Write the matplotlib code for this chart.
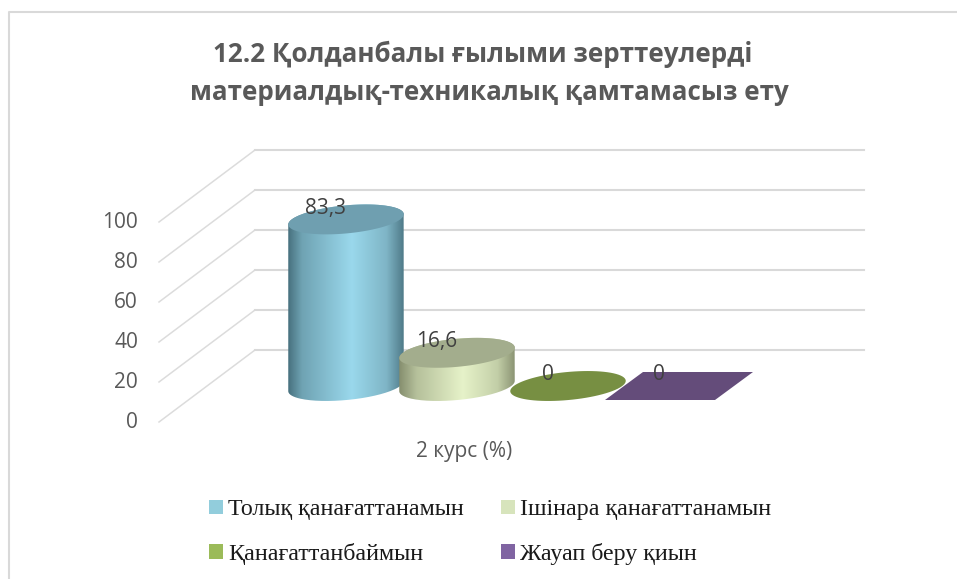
import matplotlib
matplotlib.use('Agg')
import matplotlib.pyplot as plt
import numpy as np
from matplotlib.patches import Patch, PathPatch, Polygon
from matplotlib.path import Path

title = 'Қолданбалы ғылыми зерттеулерді'
title2 = 'материалдық-техникалық қамтамасыз ету'
categories = ['Толық қанағаттанамын', 'Ішінара қанағаттанамын', 'Қанағаттанбаймын', 'Жауап беру қиын']
values = [83.3, 16.6, 0, 0]
value_labels = ['83,3', '16,6', '0', '0']
yticks = [0, 20, 40, 60, 80, 100]
xlabel = '2 курс (%)'
legend_colors = ['#92cddc', '#d7e4bc', '#9bbb59', '#8064a2']

# one category is 111 px wide, one percent is 2 px high
PX_X = 111
PX_Y = 2
W, H = 957, 579
X0, Y0 = 346, 386


def x_of(px):
    return (px - X0) / PX_X


fig = plt.figure(figsize=(W / 100, H / 100), dpi=100)
ax = fig.add_axes([0, 0, 1, 1])
ax.set_xlim(x_of(0), x_of(W))
ax.set_ylim((Y0 - H) / PX_Y, Y0 / PX_Y)
ax.axis('off')
plt.rcParams['font.family'] = ['Open Sans', 'DejaVu Sans']

# chart frame
ax.plot([x_of(9), x_of(9), x_of(W)], [(Y0 - H) / PX_Y, (Y0 - 12) / PX_Y, (Y0 - 12) / PX_Y],
        color='#d9d9d9', lw=1.5)

# wall and floor lines
depth = 36 / PX_Y
for v in yticks:
    ax.plot([x_of(159), x_of(255)], [v - depth, v + depth], color='#dcdcdc', lw=1.1, zorder=1)
    ax.plot([x_of(255), x_of(864)], [v + depth, v + depth], color='#d9d9d9', lw=1.5, zorder=1)
    ax.text(x_of(138), v - depth, str(v), ha='right', va='center', fontsize=15, color='#595959')


def ellipse(cx, v, a=58, b=14, tilt=5.4, n=80, start=0, stop=2 * np.pi):
    # tilted ellipse around a category centre, returned in data units
    t = np.linspace(start, stop, n)
    th = np.radians(tilt)
    ex = a * np.cos(t)
    ey = b * np.sin(t)
    return np.column_stack([cx + (ex * np.cos(th) - ey * np.sin(th)) / PX_X,
                            v + (ex * np.sin(th) + ey * np.cos(th)) / PX_Y])


def cylinder(cx, v, stops, top_color):
    a = 58
    front_bottom = ellipse(cx, 0, start=np.pi * 1.0, stop=2 * np.pi)
    top_arc = ellipse(cx, v, start=0, stop=np.pi)
    verts = np.vstack([front_bottom, top_arc, front_bottom[:1]])
    cmap = matplotlib.colors.LinearSegmentedColormap.from_list('c', stops)
    im = ax.imshow(np.linspace(0, 1, 256)[None, :], cmap=cmap, aspect='auto', zorder=3,
                   extent=[cx - a / PX_X, cx + a / PX_X, -10, v + 10])
    im.set_clip_path(PathPatch(Path(verts), transform=ax.transData))
    ax.add_patch(Polygon(ellipse(cx, v), closed=True, fc=top_color, ec='none', zorder=4))


cylinder(0, values[0],
         [(0, '#47707e'), (0.12, '#6fa3b3'), (0.55, '#9ad8ec'), (0.85, '#7fb5c6'), (1, '#4f7a88')],
         '#6f9fb0')
cylinder(1, values[1],
         [(0, '#858e6e'), (0.15, '#b5c09b'), (0.55, '#e6f2c9'), (0.85, '#c3cfa8'), (1, '#8b9474')],
         '#a3ad8d')
# zero height bars collapse to their flat outline
ax.add_patch(Polygon(ellipse(2, values[2]), closed=True, fc='#778f42', ec='none', zorder=3))
ax.add_patch(Polygon([[3 + (605 - 679) / PX_X, values[3] - 7], [3 + (643 - 679) / PX_X, values[3] + 7],
                      [3 + (753 - 679) / PX_X, values[3] + 7], [3 + (715 - 679) / PX_X, values[3] - 7]],
                     closed=True, fc='#644c7a', ec='none', zorder=3))
ax.set_xlim(x_of(0), x_of(W))
ax.set_ylim((Y0 - H) / PX_Y, Y0 / PX_Y)

for i, (v, lab) in enumerate(zip(values, value_labels)):
    ax.text(i - 20 / PX_X, v + 5.5, lab, ha='center', va='center', fontsize=15, color='#404040', zorder=6)

ax.text(x_of(464), (Y0 - 452) / PX_Y, xlabel, ha='center', va='center', fontsize=15, color='#595959')
ax.text(x_of(483), (Y0 - 54) / PX_Y, '12.2 ' + title, ha='center', va='center', fontsize=18.7,
        fontweight='bold', color='#595959')
ax.text(x_of(489), (Y0 - 93) / PX_Y, title2, ha='center', va='center', fontsize=18.7,
        fontweight='bold', color='#595959')

handles = [Patch(fc=c, ec='none', label=l) for c, l in zip(legend_colors, categories)]
fig.legend(handles=[handles[0], handles[2], handles[1], handles[3]], ncols=2, frameon=False,
           loc='center left', bbox_to_anchor=(209 / W, 1 - 532 / H), borderpad=0, borderaxespad=0,
           handlelength=0.58, handleheight=0.58, handletextpad=0.22, columnspacing=1.55, labelspacing=0.92,
           prop={'family': 'Liberation Serif', 'size': 17.25}, labelcolor='#1a1a1a')

plt.savefig('out.png', dpi=100)
